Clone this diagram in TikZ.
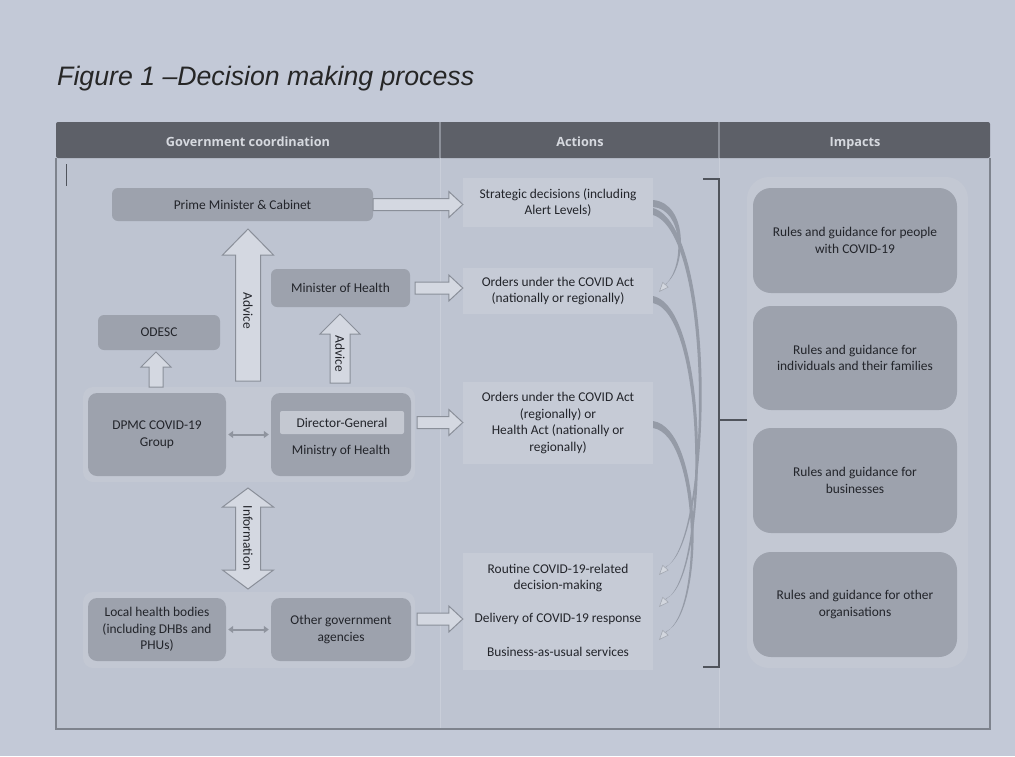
\documentclass[tikz,border=0pt]{standalone}
\usepackage{fontspec}
\setmainfont{Carlito}
\newfontfamily\titlefont{Liberation Sans}
\newfontfamily\hdrfont{Open Sans}
\usetikzlibrary{arrows.meta,calc}
\definecolor{bgc}{HTML}{C3C9D7}
\definecolor{bodyc}{HTML}{BEC4D1}
\definecolor{bodylinec}{HTML}{7E838D}
\definecolor{hdrc}{HTML}{5D6068}
\definecolor{hdrtxt}{HTML}{D6D9DF}
\definecolor{hdrdiv}{HTML}{8C9099}
\definecolor{coldiv}{HTML}{C9CED9}
\definecolor{boxc}{HTML}{9DA2AD}
\definecolor{contc}{HTML}{C3C8D3}
\definecolor{actc}{HTML}{C6CBD6}
\definecolor{dgc}{HTML}{C4C8D1}
\definecolor{txtc}{HTML}{22242A}
\definecolor{blkfill}{HTML}{D4D8E1}
\definecolor{blkdraw}{HTML}{8A8F99}
\definecolor{darrc}{HTML}{8F949E}
\definecolor{curvc}{HTML}{959BA7}
\definecolor{headfill}{HTML}{D2D6DE}
\definecolor{headdraw}{HTML}{A3A8B2}
\definecolor{brkc}{HTML}{50545C}
\newcommand\harr[2]{\draw[blk] let \p1=(#1), \p2=(#2) in
  (\x1,\y1+6pt) -- (\x2-14pt,\y1+6pt) -- (\x2-14pt,\y1+13pt) -- (\x2,\y1) --
  (\x2-14pt,\y1-13pt) -- (\x2-14pt,\y1-6pt) -- (\x1,\y1-6pt) -- cycle;}
\newcommand\uarr[5]{\draw[blk] let \p1=(#1), \p2=(#2) in
  (\x1-#3,\y1) -- (\x1-#3,\y2-#5) -- (\x1-#4,\y2-#5) -- (\x1,\y2) --
  (\x1+#4,\y2-#5) -- (\x1+#3,\y2-#5) -- (\x1+#3,\y1) -- cycle;}
\newcommand\vdarr[5]{\draw[blk] let \p1=(#1), \p2=(#2) in
  (\x1,\y1) -- (\x1-#4,\y1+#5) -- (\x1-#3,\y1+#5) -- (\x1-#3,\y2-#5) -- (\x1-#4,\y2-#5) --
  (\x1,\y2) -- (\x1+#4,\y2-#5) -- (\x1+#3,\y2-#5) -- (\x1+#3,\y1+#5) -- (\x1+#4,\y1+#5) -- cycle;}
\newcommand\curvarr[6]{%
  \fill[curvband] (653,#1-4) .. controls (#2,#3-3) and (#4+1,#5) .. (667,#6-9)
    -- (666,#6-8) .. controls (#4-1,#5) and (#2-5,#3+3) .. (653,#1+3) -- cycle;
  \draw[headln] (667,#6-9) -- (659,#6);}
\begin{document}
\begin{tikzpicture}[x=1pt,y=-1pt,
  txt/.style={font=\fontsize{13.4}{16.5}\selectfont, text=txtc, align=center},
  box/.style={txt, fill=boxc, rounded corners=6pt, inner sep=0pt},
  cont/.style={fill=contc, rounded corners=10pt, inner sep=0pt},
  act/.style={txt, fill=actc, inner sep=0pt},
  blk/.style={fill=blkfill, draw=blkdraw, line width=1pt, line join=miter},
  dbl/.style={draw=darrc, line width=2pt, {Triangle[length=5pt,width=7pt]}-{Triangle[length=5pt,width=7pt]}, shorten <=2pt, shorten >=2pt},
  curvband/.style={fill=curvc},
  headln/.style={draw=headdraw, line width=0.6pt, -{Triangle[length=10pt,width=8pt,fill=headfill]}},
  hdr/.style={font=\hdrfont\bfseries\fontsize{12.7}{15}\selectfont, text=hdrtxt, anchor=base},
  ttl/.style={font=\titlefont\itshape\fontsize{26.7}{30}\selectfont, text=black!85, inner sep=0pt}
]
\fill[bgc] (0,0) rectangle (1015,756);
\useasboundingbox (0,0) rectangle (1015,756);

% title
\node[ttl, anchor=base west] (title) at (57,85) {Figure 1 –Decision making process};

% table frame
\fill[bodyc] (56,158) rectangle (990,729);
\draw[bodylinec, line width=1.2pt] (56,158) -- (56,729) -- (990,729) -- (990,158);
\fill[hdrc, rounded corners=2pt] (56,122) rectangle (990,158);
\draw[hdrdiv, line width=1.5pt] (440,122) -- (440,158) (719,122) -- (719,158);
\draw[coldiv, line width=1pt] (440,158) -- (440,728) (719,158) -- (719,728);
\node[hdr] (hg) at (248,146) {Government coordination};
\node[hdr] (ha) at (580,146) {Actions};
\node[hdr] (hi) at (855,146) {Impacts};
\draw[brkc, line width=1pt] (66,164) -- (66,186);

% government coordination
\node[box, minimum width=261pt, minimum height=33pt] (pmc) at (242.5,204.5) {Prime Minister \& Cabinet};
\node[box, minimum width=139pt, minimum height=38pt] (moh) at (340.5,288) {Minister of Health};
\node[box, minimum width=122pt, minimum height=35pt] (odesc) at (159,332.5) {ODESC};
\node[cont, minimum width=332pt, minimum height=95pt] (grp1) at (249,434.5) {};
\node[box, rounded corners=9pt, minimum width=138pt, minimum height=83pt] (dpmc) at (157,434.5) {DPMC COVID-19\\Group};
\node[box, rounded corners=9pt, minimum width=140pt, minimum height=83pt] (mini) at (341,434.5) {};
\node[box, fill=dgc, rounded corners=2pt, minimum width=124pt, minimum height=23pt] (dg) at (342,422.5) {Director-General};
\node[txt] (mintxt) at (341,451) {Ministry of Health};
\node[cont, minimum width=332pt, minimum height=76pt] (grp2) at (249,630) {};
\node[box, rounded corners=9pt, minimum width=138pt, minimum height=63pt] (local) at (157,629.5) {Local health bodies\\(including DHBs and\\PHUs)};
\node[box, rounded corners=9pt, minimum width=140pt, minimum height=63pt] (other) at (341,629.5) {Other government\\agencies};

% actions
\node[act, minimum width=190pt, minimum height=49pt] (strat) at (558,202.5) {Strategic decisions (including\\Alert Levels)};
\node[act, minimum width=190pt, minimum height=46pt] (ord1) at (558,291) {Orders under the COVID Act\\(nationally or regionally)};
\node[act, minimum width=190pt, minimum height=82pt] (ord2) at (558,423) {Orders under the COVID Act\\(regionally) or\\Health Act (nationally or\\regionally)};
\node[act, minimum width=190pt, minimum height=117pt] (rout) at (558,611) {};
\node[txt] (r1) at (558,578) {Routine COVID-19-related\\decision-making};
\node[txt] (r2) at (558,619) {Delivery of COVID-19 response};
\node[txt] (r3) at (558,652) {Business-as-usual services};

% impacts
\node[cont, rounded corners=22pt, minimum width=221pt, minimum height=491pt] (impc) at (857.5,422.5) {};
\node[box, rounded corners=18pt, minimum width=204pt, minimum height=105pt] (i1) at (855,240.5) {Rules and guidance for people\\with COVID-19};
\node[box, rounded corners=18pt, minimum width=204pt, minimum height=104pt] (i2) at (855,358) {Rules and guidance for\\individuals and their families};
\node[box, rounded corners=18pt, minimum width=204pt, minimum height=105pt] (i3) at (855,480.5) {Rules and guidance for\\businesses};
\node[box, rounded corners=18pt, minimum width=204pt, minimum height=105pt] (i4) at (855,604.5) {Rules and guidance for other\\organisations};

% bracket
\draw[brkc, line width=2pt] (703,179) -- (719,179) -- (719,667) -- (703,667);
\coordinate (brk) at (719,420);
\draw[brkc, line width=2pt] (brk) -- (brk -| impc.west);

% block arrows to actions
\harr{pmc.east}{strat.west}
\harr{$(moh.east)+(5,0)$}{ord1.west}
\harr{$(mini.east |- dg.center)+(6,0)$}{ord2.west}
\harr{$(other.east |- r2)+(6,0)$}{rout.west}

% vertical block arrows
\coordinate (a1b) at (248,381); \coordinate (a1t) at (248,229);
\uarr{a1b}{a1t}{12.5pt}{25.5pt}{26pt}
\node[txt, rotate=-90] (adv1) at (248,311) {Advice};
\coordinate (a2b) at (340,383); \coordinate (a2t) at (340,314);
\uarr{a2b}{a2t}{10pt}{20pt}{20pt}
\node[txt, rotate=-90] (adv2) at (340,354) {Advice};
\coordinate (a3b) at (156,387); \coordinate (a3t) at (156,352);
\uarr{a3b}{a3t}{7pt}{15pt}{15pt}
\coordinate (ib) at (248,589); \coordinate (it) at (248,488);
\vdarr{ib}{it}{12.5pt}{25.5pt}{19pt}
\node[txt, rotate=-90] (info) at (248,538) {Information};

% two-way links
\draw[dbl] (dpmc.east) -- (mini.west);
\draw[dbl] (local.east) -- (other.west);

% curved arrows
\curvarr{204}{688}{206}{686}{265}{292}
\curvarr{212}{718}{230}{712}{540}{575}
\curvarr{300}{712}{312}{708}{578}{607}
\curvarr{425}{704}{432}{704}{612}{640}
\end{tikzpicture}
\end{document}
